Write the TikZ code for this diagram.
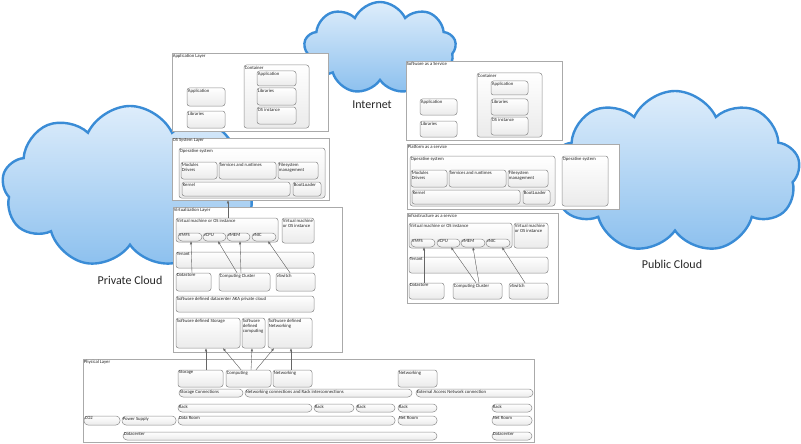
\documentclass[tikz,border=0pt]{standalone}
\usepackage{fontspec}
\setmainfont{Carlito}
\usepackage{xcolor}
\usepackage{tikz}
\usetikzlibrary{arrows.meta,positioning,fit,shapes.symbols}

\definecolor{cloudEdge}{RGB}{58,140,214}
\definecolor{cloudTop}{RGB}{222,237,251}
\definecolor{cloudBot}{RGB}{140,192,238}
\definecolor{boxLine}{RGB}{140,140,140}
\definecolor{panelLine}{RGB}{170,170,170}

% one rounded box from its two corners, text at top left
\newcommand{\bx}[5][box]{\node[#1, fit={#3 #4}, label={[txt]north west:{#5}}] (#2) {};}

\begin{document}
\begin{tikzpicture}[
  x=1pt, y=-1pt,
  every node/.style={font=\fontsize{4.7}{5.3}\selectfont},
  txt/.style={anchor=north west, inner sep=0.9pt, align=left, text=black!85},
  panel/.style={draw=panelLine, fill=white, inner sep=0pt, line width=0.6pt},
  box/.style={draw=boxLine, rounded corners=2.5pt, top color=white,
    bottom color=gray!16, inner sep=0pt, line width=0.5pt},
  pill/.style={box, rounded corners=4pt},
  cloudy/.style={cloud, cloud puffs=9, cloud puff arc=130, cloud ignores aspect,
    draw=cloudEdge, line width=2.4pt, top color=cloudTop, bottom color=cloudBot},
  cloudtxt/.style={font=\fontsize{12}{14}\selectfont, text=black!85},
  arr/.style={-{Latex[length=3pt,width=2.4pt]}, line width=0.35pt, draw=black!60, fill=black!60}
]
\useasboundingbox (0,0) rectangle (801,444);

% clouds
\node[cloudy, minimum width=256pt, minimum height=162pt] (privCloud) at (130,187) {};
\node[cloudy, minimum width=152pt, minimum height=92pt] (inetCloud) at (380,48) {};
\node[cloudy, minimum width=250pt, minimum height=162pt] (pubCloud) at (675,172) {};
\node[cloudtxt] (privTxt) at (130,280) {Private Cloud};
\node[cloudtxt] (inetTxt) at (372,105) {Internet};
\node[cloudtxt] (pubTxt) at (672,264) {Public Cloud};

% private cloud: application layer
\bx[panel]{appLayer}{(172,53)}{(328,131)}{Application Layer}
\bx{appCont}{(244,65)}{(309,128)}{Container}
\bx{appApp}{(257,71)}{(296,86)}{Application}
\bx{appLib}{(257,88)}{(296,105)}{Libraries}
\bx{appOs}{(257,107)}{(296,124)}{OS instance}
\bx{appAppB}{(187,88)}{(225,106)}{Application}
\bx{appLibB}{(187,111)}{(225,128)}{Libraries}

% private cloud: OS system layer
\bx[panel]{osLayer}{(172,138)}{(329,200)}{OS System Layer}
\bx{osSys}{(179,148)}{(325,198)}{Operative system}
\bx{osMod}{(181,162)}{(217,179)}{Modules\\Drivers}
\bx{osSrv}{(219,162)}{(276,179)}{Services and runtimes}
\bx{osFs}{(278,162)}{(318,179)}{Filesystem\\management}
\bx{osKern}{(182,182)}{(290,196)}{Kernel}
\bx{osBoot}{(293,182)}{(321,196)}{BootLoader}

% private cloud: virtualization layer
\bx[panel]{virtLayer}{(173,207)}{(342,352)}{Virtualization Layer}
\bx{vm}{(176,218)}{(278,242)}{Virtual machine or OS instance}
\bx[pill]{vmfs}{(178,233)}{(202,241)}{VMFS}
\bx[pill]{vcpu}{(203,233)}{(226,241)}{vCPU}
\bx[pill]{vmem}{(227,233)}{(250,241)}{vMEM}
\bx[pill]{vnic}{(252,233)}{(276,241)}{vNIC}
\bx{vmB}{(282,218)}{(314,243)}{Virtual machine\\or OS instance}
\bx{tenant}{(176,252)}{(314,268)}{Tenant}
\bx{dstore}{(176,273)}{(211,291)}{Datastore}
\bx{cluster}{(219,273)}{(270,291)}{Computing Cluster}
\bx{vswitch}{(276,273)}{(315,291)}{vSwitch}
\bx{sddc}{(176,296)}{(314,312)}{Software defined datacenter AKA private cloud}
\bx{sdStor}{(176,318)}{(240,348)}{Software defined Storage}
\bx{sdComp}{(242,318)}{(265,348)}{Software\\defined\\computing}
\bx{sdNet}{(268,318)}{(312,348)}{Software defined\\Networking}

% physical layer
\bx[panel]{physLayer}{(83,359)}{(534,442)}{Physical Layer}
\bx{pStor}{(178,370)}{(223,387)}{Storage}
\bx{pComp}{(226,370)}{(271,387)}{Computing}
\bx{pNet}{(273,370)}{(312,387)}{Networking}
\bx{pNetB}{(398,370)}{(437,387)}{Networking}
\bx[pill]{storConn}{(179,389)}{(243,397)}{Storage Connections}
\bx[pill]{netConn}{(245,389)}{(412,397)}{Networking connections and Rack interconnections}
\bx[pill]{extConn}{(416,389)}{(533,397)}{External Access Network connection}
\bx[pill]{rackA}{(178,404)}{(312,412)}{Rack}
\bx[pill]{rackB}{(314,404)}{(354,412)}{Rack}
\bx[pill]{rackC}{(356,404)}{(395,412)}{Rack}
\bx[pill]{rackD}{(398,404)}{(437,412)}{Rack}
\bx[pill]{rackE}{(492,404)}{(532,412)}{Rack}
\bx[pill]{coTwo}{(84,416)}{(120,425)}{CO2}
\bx[pill]{power}{(122,416)}{(176,425)}{Power Supply}
\bx[pill]{dataRoom}{(178,416)}{(395,425)}{Data Room}
\bx[pill]{netRoomA}{(398,416)}{(437,425)}{Net Room}
\bx[pill]{netRoomB}{(492,416)}{(532,425)}{Net Room}
\bx[pill]{dcA}{(123,432)}{(437,440)}{Datacenter}
\bx[pill]{dcB}{(492,432)}{(532,440)}{Datacenter}

% public cloud: software as a service
\bx[panel]{saas}{(406,61)}{(562,140)}{Software as a Service}
\bx{saasCont}{(477,73)}{(542,137)}{Container}
\bx{saasApp}{(491,81)}{(528,95)}{Application}
\bx{saasLib}{(491,99)}{(528,115)}{Libraries}
\bx{saasOs}{(491,117)}{(528,135)}{OS instance}
\bx{saasAppB}{(420,99)}{(457,115)}{Application}
\bx{saasLibB}{(420,121)}{(457,137)}{Libraries}

% public cloud: platform as a service
\bx[panel]{paas}{(407,144)}{(619,209)}{Platform as a service}
\bx{paasSys}{(410,156)}{(555,206)}{Operative system}
\bx{paasMod}{(411,170)}{(447,187)}{Modules\\Drivers}
\bx{paasSrv}{(449,170)}{(506,187)}{Services and runtimes}
\bx{paasFs}{(508,170)}{(548,187)}{Filesystem\\management}
\bx{paasKern}{(412,190)}{(520,204)}{Kernel}
\bx{paasBoot}{(523,190)}{(550,204)}{BootLoader}
\bx{paasSysB}{(562,156)}{(608,206)}{Operative system}

% public cloud: infrastructure as a service
\bx[panel]{iaas}{(407,213)}{(558,303)}{Infrastructure as a service}
\bx{iVm}{(409,223)}{(512,248)}{Virtual machine or OS instance}
\bx[pill]{iVmfs}{(411,239)}{(435,247)}{VMFS}
\bx[pill]{iVcpu}{(437,239)}{(460,247)}{vCPU}
\bx[pill]{iVmem}{(461,239)}{(485,247)}{vMEM}
\bx[pill]{iVnic}{(486,239)}{(510,247)}{vNIC}
\bx{iVmB}{(514,223)}{(548,248)}{Virtual machine\\or OS instance}
\bx{iTenant}{(409,257)}{(548,273)}{Tenant}
\bx{iDstore}{(409,283)}{(444,299)}{Datastore}
\bx{iCluster}{(453,283)}{(502,299)}{Computing Cluster}
\bx{iVswitch}{(509,283)}{(548,299)}{vSwitch}

% connectors
\draw[arr] (228,0 |- vm.north) -- (228,0 |- osLayer.south);
\draw[arr] (192,0 |- dstore.north) -- (191,0 |- vmfs.south);
\draw[arr] (237,0 |- cluster.north) -- (218,0 |- vcpu.south);
\draw[arr] (241,0 |- cluster.north) -- (240,0 |- vmem.south);
\draw[arr] (290,0 |- vswitch.north) -- (268,0 |- vnic.south);

\draw[arr] (206,0 |- pStor.north) -- (206,0 |- sdStor.south);
\draw[arr] (241,0 |- pComp.north) -- (223,0 |- sdStor.south);
\draw[arr] (251,0 |- pComp.north) -- (252,0 |- sdComp.south);
\draw[arr] (256,0 |- pComp.north) -- (274,0 |- sdNet.south);
\draw[arr] (291,0 |- pNet.north) -- (291,0 |- sdNet.south);

\draw[arr] (424,0 |- iDstore.north) -- (424,0 |- iVmfs.south);
\draw[arr] (476,0 |- iCluster.north) -- (451,0 |- iVcpu.south);
\draw[arr] (479,0 |- iCluster.north) -- (473,0 |- iVmem.south);
\draw[arr] (525,0 |- iVswitch.north) -- (502,0 |- iVnic.south);
\end{tikzpicture}
\end{document}
